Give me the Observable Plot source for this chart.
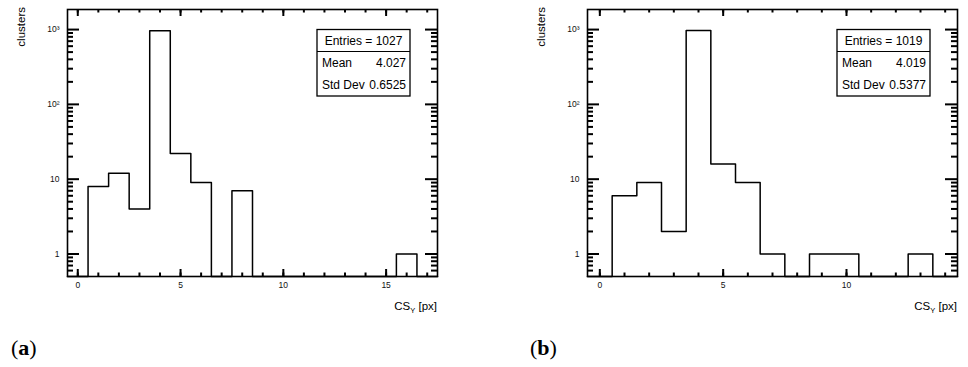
<!DOCTYPE html>
<html><head><meta charset="utf-8">
<script src="https://cdn.jsdelivr.net/npm/d3@7"></script>
<script src="https://cdn.jsdelivr.net/npm/@observablehq/plot@0.6"></script>
<style>
body{margin:0;background:#fff;width:968px;height:367px;position:relative;overflow:hidden;font-family:"Liberation Sans",Arial,sans-serif}
.panel{position:absolute;top:0;width:484px;height:320px}
.panel svg{max-width:none !important}
.lab{position:absolute;top:337px;font-family:"Liberation Serif",serif;font-size:22px;color:#000;line-height:1}
</style></head><body>
<div id="pa" class="panel" style="left:0"></div>
<div id="pb" class="panel" style="left:520px"></div>
<div class="lab" style="left:11px">(<b>a</b>)</div>
<div class="lab" style="left:530px">(<b>b</b>)</div>
<script>
// ---- data ----
const binsA   = [0,1,2,3,4,5,6,7,8,9,10,11,12,13,14,15,16,17];
const countsA = [0,8,12,4,964,22,9,0,7,0,0,0,0,0,0,0,1,0];
const binsB   = [0,1,2,3,4,5,6,7,8,9,10,11,12,13,14];
const countsB = [0,6,9,2,973,16,9,1,0,1,1,0,0,1,0];
const statsA = {entries: "1027", mean: "4.027", std: "0.6525"};
const statsB = {entries: "1019", mean: "4.019", std: "0.5377"};
const xMajorA = [0,5,10,15];
const xMajorB = [0,5,10];
const yMajor = [1,10,100,1000];
const yMajorLabels = ["1","10","10²","10³"];
const yMinor = [0.6,0.7,0.8,0.9,2,3,4,5,6,7,8,9,20,30,40,50,60,70,80,90,200,300,400,500,600,700,800,900];
const Y_MIN = 0.5, Y_MAX = 1855;
const xTitle = "CS", xTitleSub = "Y", xTitleUnit = " [px]";
const yTitle = "clusters";

const W = 484, H = 320, ML = 67, MR = 47, MT = 9, MB = 44;
const IW = W - ML - MR, IH = H - MT - MB;

function panel(bins, counts, xMajor, stats) {
  const xMin = bins[0] - 0.5, xMax = bins[bins.length - 1] + 0.5;
  const steps = [{x: xMin, y: Y_MIN}]
    .concat(bins.map((b, i) => ({x: b - 0.5, y: Math.max(counts[i], Y_MIN)})))
    .concat([{x: xMax, y: Math.max(counts[counts.length - 1], Y_MIN)}, {x: xMax, y: Y_MIN}]);
  const fmtY = d => yMajorLabels[yMajor.indexOf(d)];
  const XM = 7, Xm = 3.5, YM = 12, Ym = 6;
  const tk = {stroke: "#000", strokeWidth: 2};
  const plot = Plot.plot({
    width: W, height: H,
    marginLeft: ML, marginRight: MR, marginTop: MT, marginBottom: MB,
    style: {fontFamily: "Liberation Sans, Arial, sans-serif", fontSize: "8.5px", color: "#111", background: "#fff", maxWidth: "none"},
    x: {domain: [xMin, xMax], label: null},
    y: {type: "log", domain: [Y_MIN, Y_MAX], label: null},
    marks: [
      Plot.axisX({anchor: "bottom", ticks: xMajor, tickSize: 0, tickPadding: 5, tickFormat: d => String(d), label: null}),
      Plot.axisY({anchor: "left", ticks: yMajor, tickSize: 0, tickPadding: 8, tickFormat: fmtY, label: null}),
      Plot.ruleX(xMajor, {x: d => d, insetTop: IH - XM, ...tk}),
      Plot.ruleX(bins, {x: d => d, insetTop: IH - Xm, ...tk}),
      Plot.ruleX(xMajor, {x: d => d, insetBottom: IH - XM, ...tk}),
      Plot.ruleX(bins, {x: d => d, insetBottom: IH - Xm, ...tk}),
      Plot.ruleY(yMajor, {y: d => d, insetRight: IW - YM, ...tk}),
      Plot.ruleY(yMinor, {y: d => d, insetRight: IW - Ym, ...tk}),
      Plot.ruleY(yMajor, {y: d => d, insetLeft: IW - YM, ...tk}),
      Plot.ruleY(yMinor, {y: d => d, insetLeft: IW - Ym, ...tk}),
      Plot.line(steps, {x: "x", y: "y", curve: "step-after", stroke: "#000", strokeWidth: 1.5}),
      Plot.frame({stroke: "#000", strokeWidth: 1.6})
    ]
  });
  const svg = d3.select(plot);
  svg.append("text").attr("transform", "translate(24.5,7) rotate(-90)")
    .attr("text-anchor", "end").attr("fill", "#000").style("font-size", "11.5px").text(yTitle);
  const xl = svg.append("text").attr("x", 437).attr("y", 310).attr("text-anchor", "end")
    .attr("fill", "#000").style("font-size", "11.5px");
  xl.append("tspan").text(xTitle);
  xl.append("tspan").attr("dy", 3).style("font-size", "7.5px").text(xTitleSub);
  xl.append("tspan").attr("dy", -3).text(xTitleUnit);
  const g = svg.append("g").style("font-size", "12px").attr("fill", "#000");
  g.append("rect").attr("x", 317).attr("y", 29.5).attr("width", 93).attr("height", 66.5)
    .attr("fill", "#fff").attr("stroke", "#000").attr("stroke-width", 1.3);
  g.append("line").attr("x1", 317).attr("x2", 410).attr("y1", 51.5).attr("y2", 51.5)
    .attr("stroke", "#000").attr("stroke-width", 1.1);
  g.append("text").attr("x", 363.5).attr("y", 45).attr("text-anchor", "middle").text("Entries = " + stats.entries);
  g.append("text").attr("x", 322).attr("y", 67).attr("text-anchor", "start").text("Mean");
  g.append("text").attr("x", 406).attr("y", 67).attr("text-anchor", "end").text(stats.mean);
  g.append("text").attr("x", 322).attr("y", 89).attr("text-anchor", "start").text("Std Dev");
  g.append("text").attr("x", 406).attr("y", 89).attr("text-anchor", "end").text(stats.std);
  return plot;
}
document.getElementById("pa").append(panel(binsA, countsA, xMajorA, statsA));
document.getElementById("pb").append(panel(binsB, countsB, xMajorB, statsB));
</script>
</body></html>
